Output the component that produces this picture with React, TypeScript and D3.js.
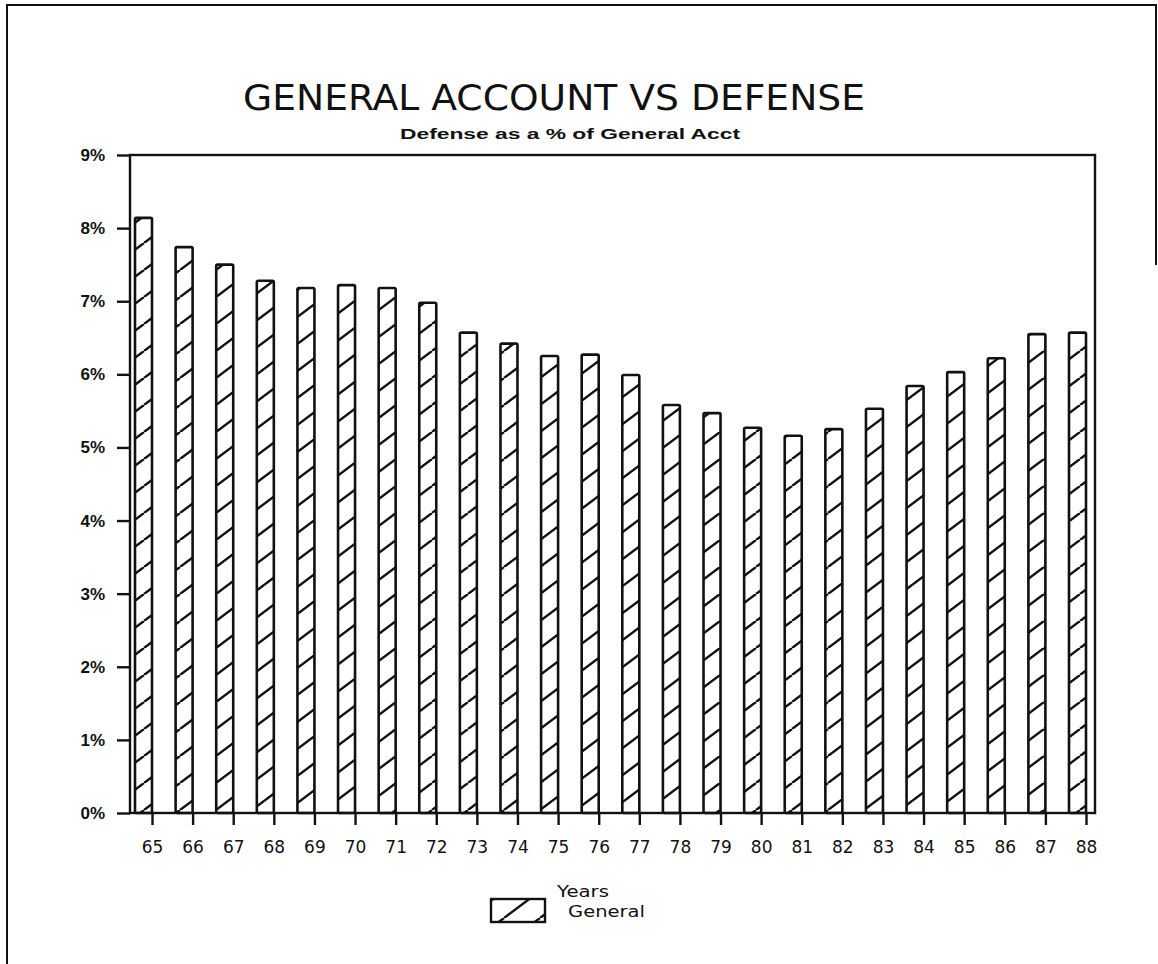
import React, { useEffect, useRef } from 'react';
import * as d3 from 'd3';

// Years on the x axis (19xx)
const years = ['65', '66', '67', '68', '69', '70', '71', '72', '73', '74', '75', '76',
  '77', '78', '79', '80', '81', '82', '83', '84', '85', '86', '87', '88'];

// Defense as a % of General Account
const general = [8.14, 7.74, 7.5, 7.28, 7.18, 7.22, 7.18, 6.98, 6.57, 6.42, 6.25, 6.27,
  5.99, 5.58, 5.47, 5.27, 5.16, 5.25, 5.53, 5.84, 6.03, 6.22, 6.55, 6.57];

const yTicks = [0, 1, 2, 3, 4, 5, 6, 7, 8, 9];

const App = () => {
  const chartRef = useRef<SVGSVGElement>(null);

  useEffect(() => {
    const width = 1158;
    const height = 964;
    const plot = { left: 130, right: 1095, top: 155, bottom: 813 };
    const barW = 17;
    const ink = '#111';

    const svg = d3.select(chartRef.current);
    svg.selectAll('*').remove();
    svg.attr('width', width).attr('height', height);

    // hatch pattern "/" lines
    const defs = svg.append('defs');
    const pat = defs
      .append('pattern')
      .attr('id', 'hatch')
      .attr('patternUnits', 'userSpaceOnUse')
      .attr('width', 36)
      .attr('height', 27);
    pat.append('rect').attr('width', 36).attr('height', 27).attr('fill', '#fff');
    [[0, 27, 36, 0], [-36, 27, 0, 0], [36, 27, 72, 0]].forEach(([x1, y1, x2, y2]) => {
      pat
        .append('line')
        .attr('x1', x1)
        .attr('y1', y1)
        .attr('x2', x2)
        .attr('y2', y2)
        .attr('stroke', ink)
        .attr('stroke-width', 2.4);
    });

    // outer frame (left, top, right part)
    svg
      .append('path')
      .attr('d', `M7,964 L7,5 L1156,5 L1156,265`)
      .attr('fill', 'none')
      .attr('stroke', ink)
      .attr('stroke-width', 2);

    // Titles
    svg
      .append('text')
      .attr('x', 554)
      .attr('y', 110)
      .attr('text-anchor', 'middle')
      .attr('font-family', 'DejaVu Sans, sans-serif')
      .attr('font-size', 36)
      .attr('textLength', 622)
      .attr('lengthAdjust', 'spacingAndGlyphs')
      .attr('fill', ink)
      .text('GENERAL ACCOUNT VS DEFENSE');

    svg
      .append('text')
      .attr('x', 570)
      .attr('y', 139)
      .attr('text-anchor', 'middle')
      .attr('font-family', 'Liberation Sans, Arial, sans-serif')
      .attr('font-size', 14)
      .attr('font-weight', 'bold')
      .attr('textLength', 340)
      .attr('lengthAdjust', 'spacingAndGlyphs')
      .attr('fill', ink)
      .text('Defense as a % of General Acct');

    // scales
    const x = d3.scalePoint<string>().domain(years).range([152, 1086]);
    const y = d3.scaleLinear().domain([0, 9]).range([plot.bottom, plot.top]);

    // bars
    svg
      .append('g')
      .selectAll('rect')
      .data(general)
      .enter()
      .append('rect')
      .attr('x', (_, i) => (x(years[i]) as number) - barW)
      .attr('y', d => y(d))
      .attr('width', barW)
      .attr('height', d => plot.bottom - y(d))
      .attr('rx', 1.5)
      .attr('fill', 'url(#hatch)')
      .attr('stroke', ink)
      .attr('stroke-width', 2.6);

    // plot box
    svg
      .append('rect')
      .attr('x', plot.left)
      .attr('y', plot.top)
      .attr('width', plot.right - plot.left)
      .attr('height', plot.bottom - plot.top)
      .attr('fill', 'none')
      .attr('stroke', ink)
      .attr('stroke-width', 2.4);

    // Y axis
    const yAxis = svg
      .append('g')
      .attr('transform', `translate(${plot.left},0)`)
      .call(d3.axisLeft(y).tickValues(yTicks).tickSize(13).tickPadding(12).tickFormat(d => `${d}%`));
    yAxis.select('.domain').remove();
    yAxis.selectAll('line').attr('stroke', ink).attr('stroke-width', 2.4);
    yAxis
      .selectAll('text')
      .attr('font-family', 'Liberation Sans, Arial, sans-serif')
      .attr('font-size', 17)
      .attr('font-weight', 'bold')
      .attr('fill', ink);

    // X axis
    const xAxis = svg
      .append('g')
      .attr('transform', `translate(0,${plot.bottom})`)
      .call(d3.axisBottom(x).tickSize(12).tickPadding(16));
    xAxis.select('.domain').remove();
    xAxis.selectAll('line').attr('stroke', ink).attr('stroke-width', 2.4);
    xAxis
      .selectAll('text')
      .attr('font-family', 'DejaVu Sans, sans-serif')
      .attr('font-size', 17)
      .attr('fill', ink);

    // axis title + legend
    svg
      .append('text')
      .attr('x', 583)
      .attr('y', 897)
      .attr('text-anchor', 'middle')
      .attr('font-family', 'DejaVu Sans, sans-serif')
      .attr('font-size', 15)
      .attr('textLength', 52)
      .attr('lengthAdjust', 'spacingAndGlyphs')
      .attr('fill', ink)
      .text('Years');

    svg
      .append('rect')
      .attr('x', 491)
      .attr('y', 899)
      .attr('width', 54)
      .attr('height', 23)
      .attr('fill', 'url(#hatch)')
      .attr('stroke', ink)
      .attr('stroke-width', 2.4);

    svg
      .append('text')
      .attr('x', 568)
      .attr('y', 917)
      .attr('font-family', 'DejaVu Sans, sans-serif')
      .attr('font-size', 16)
      .attr('textLength', 77)
      .attr('lengthAdjust', 'spacingAndGlyphs')
      .attr('fill', ink)
      .text('General');
  }, []);

  return (
    <div>
      <svg ref={chartRef} style={{ position: 'absolute', left: 0, top: 0, background: '#fff' }}></svg>
    </div>
  );
};

export default App;
